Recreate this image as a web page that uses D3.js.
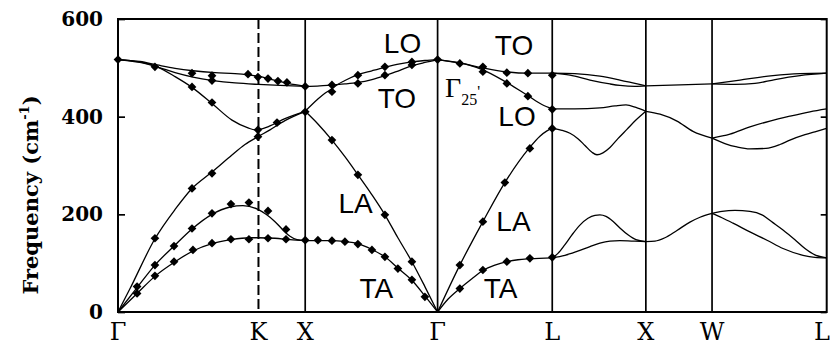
<!DOCTYPE html>
<html>
<head>
<meta charset="utf-8">
<script src="https://cdn.jsdelivr.net/npm/d3@7"></script>
<style>
  html, body { margin: 0; padding: 0; background: #fff; }
  svg { display: block; }
</style>
</head>
<body>
<svg id="chart" width="830" height="347"></svg>
<script>
// Phonon dispersion of Si along Γ–K–X–Γ–L–X–W–L (wavevector in units of 2π/a, frequency in cm⁻¹)

const symmetryLabels = ["Γ", "K", "X", "Γ", "L", "X", "W", "L"];
const symmetryK = [0, 1.061, 1.414, 2.414, 3.280, 3.987, 4.487, 5.353];
const yTicks = [0, 200, 400, 600];

// Γ → K → X (Σ line continued to the X-equivalent point)
const gkxTA1 = [[0,0],[0.144,38],[0.287,75],[0.431,103],[0.566,125],[0.710,140],[0.853,148],[0.997,152],[1.058,152],[1.186,151],[1.299,148],[1.414,146]];
const gkxTA2 = [[0,0],[0.144,50],[0.279,96],[0.423,135],[0.559,170],[0.710,200],[0.846,215],[0.944,218],[1.057,210],[1.118,200],[1.186,185],[1.246,168],[1.299,155],[1.352,148],[1.414,146]];
const gkxLA  = [[0,0],[0.091,48],[0.279,150],[0.431,210],[0.559,253],[0.702,285],[0.846,318],[0.959,343],[1.057,359],[1.148,373],[1.261,392],[1.414,411]];
const gkxLO  = [[0,517],[0.166,512],[0.295,502],[0.431,482],[0.559,460],[0.710,427],[0.861,393],[0.982,377],[1.035,373],[1.073,374],[1.148,381],[1.261,396],[1.414,411]];
const gkxTO1 = [[0,517],[0.166,511],[0.295,502],[0.431,490],[0.566,481],[0.718,474],[0.884,469],[1.061,466],[1.224,464],[1.414,462]];
const gkxTO2 = [[0,517],[0.166,513],[0.295,506],[0.431,499],[0.566,494],[0.733,490],[0.884,488],[0.997,485],[1.057,483],[1.163,476],[1.284,468],[1.414,462]];

// X → Γ
const xgTA = [[1.414,146],[1.510,146],[1.616,146],[1.714,144],[1.812,140],[1.918,128],[2.016,113],[2.114,90],[2.220,65],[2.318,33],[2.414,0]];
const xgLA = [[1.414,411],[1.510,385],[1.616,352],[1.714,318],[1.812,281],[1.918,240],[2.016,199],[2.114,152],[2.220,103],[2.318,52],[2.414,0]];
const xgLO = [[1.414,411],[1.510,436],[1.563,448],[1.616,457],[1.653,465],[1.714,474],[1.812,486],[1.918,494],[2.016,501],[2.129,508],[2.220,512],[2.318,515],[2.414,517]];
const xgTO = [[1.414,462],[1.525,463],[1.616,465],[1.714,467],[1.812,470],[1.918,476],[2.016,484],[2.129,495],[2.220,504],[2.318,511],[2.414,517]];

// Γ → L
const glTA = [[2.414,0],[2.492,26],[2.582,48],[2.673,68],[2.756,85],[2.847,96],[2.937,103],[3.021,107],[3.111,109],[3.280,111]];
const glLA = [[2.414,0],[2.582,96],[2.756,185],[2.922,265],[3.104,335],[3.187,360],[3.240,371],[3.280,376]];
const glLO = [[2.414,517],[2.582,510],[2.658,505],[2.756,496],[2.930,471],[3.096,443],[3.202,425],[3.280,416]];
const glTO = [[2.414,517],[2.582,510],[2.756,500],[2.930,492],[3.096,489],[3.280,489]];

// L → X
const lxTO1 = [[3.280,489],[3.451,488],[3.640,483],[3.791,475],[3.905,468],[3.987,463]];
const lxTO2 = [[3.280,489],[3.414,485],[3.565,475],[3.716,467],[3.791,464],[3.905,462],[3.987,463]];
const lxLO  = [[3.280,416],[3.451,416],[3.640,418],[3.754,422],[3.837,424],[3.912,419],[3.987,411]];
const lxLA  = [[3.280,376],[3.353,372],[3.414,366],[3.474,355],[3.527,341],[3.580,327],[3.618,322],[3.663,326],[3.716,337],[3.776,355],[3.844,374],[3.912,393],[3.987,411]];
const lxTA1 = [[3.280,111],[3.323,120],[3.376,138],[3.429,158],[3.489,178],[3.550,192],[3.603,198],[3.640,199],[3.686,196],[3.738,186],[3.791,172],[3.852,158],[3.912,148],[3.987,144]];
const lxTA2 = [[3.280,111],[3.376,116],[3.467,124],[3.565,134],[3.640,141],[3.716,145],[3.791,146],[3.905,145],[3.987,144]];

// X → W
const xwTO = [[3.987,463],[4.245,465],[4.487,467]];
const xwLO = [[3.987,411],[4.094,405],[4.222,391],[4.343,370],[4.487,356]];
const xwTA = [[3.987,144],[4.056,145],[4.131,152],[4.222,167],[4.320,184],[4.396,194],[4.487,202]];

// W → L
const wlTO1 = [[4.487,467],[4.698,475],[4.947,484],[5.151,488],[5.353,489]];
const wlTO2 = [[4.487,467],[4.660,466],[4.811,468],[4.962,476],[5.151,484],[5.353,489]];
const wlLO  = [[4.487,356],[4.622,364],[4.773,379],[4.924,391],[5.075,401],[5.226,410],[5.353,416]];
const wlLA  = [[4.487,356],[4.584,345],[4.675,338],[4.773,334],[4.894,335],[5.000,343],[5.075,352],[5.189,363],[5.264,369],[5.353,376]];
const wlTA1 = [[4.487,202],[4.562,206],[4.660,208],[4.773,206],[4.864,199],[4.947,183],[5.023,168],[5.113,148],[5.189,130],[5.264,117],[5.353,111]];
const wlTA2 = [[4.487,202],[4.562,193],[4.645,182],[4.773,164],[4.902,147],[5.023,130],[5.174,116],[5.264,112],[5.353,111]];

// Neutron-scattering measurements
const measuredGKX = [[0,517],[0.279,502],[0.559,489],[0.710,484],[0.710,474],[0.982,487],[1.057,481],[1.133,478],[1.208,473],[1.276,470],[1.414,462],
  [0.559,461],[0.710,429],[1.057,373],[1.057,359],[1.201,388],[1.414,410],
  [0.144,52],[0.144,38],[0.279,151],[0.279,96],[0.279,74],[0.423,135],[0.423,103],[0.559,253],[0.559,171],[0.566,127],
  [0.710,284],[0.710,202],[0.710,141],[0.853,221],[0.853,149],[0.989,224],[0.989,149],[1.133,207],[1.133,151],[1.269,169],[1.269,149],[1.414,147]];
const measuredXG = [[1.510,147],[1.616,465],[1.616,451],[1.616,352],[1.616,146],[1.714,144],[1.812,485],[1.812,468],[1.812,281],[1.812,139],
  [1.918,127],[2.016,502],[2.016,485],[2.016,199],[2.016,113],[2.114,89],[2.220,512],[2.220,506],[2.220,103],[2.220,66],[2.318,31],[2.414,517]];
const measuredGL = [[2.582,509],[2.756,502],[2.756,492],[2.937,490],[2.937,468],[3.096,489],[3.096,442],[3.280,485],[3.280,415],[3.280,376],
  [3.111,335],[2.922,265],[2.756,185],[2.582,96],[2.582,48],[2.756,86],[2.937,103],[3.111,110],[3.280,112]];

// Branch names placed next to their curves (wavevector, frequency of the baseline anchor)
const bandLabels = [
  { text: "LO", k: 2.149, f: 530 },
  { text: "TO", k: 2.107, f: 418 },
  { text: "TO", k: 2.991, f: 526 },
  { text: "LO", k: 3.014, f: 381 },
  { text: "LA", k: 1.794, f: 203 },
  { text: "LA", k: 2.987, f: 166 },
  { text: "TA", k: 1.952, f: 29 },
  { text: "TA", k: 2.889, f: 29 }
];
const gammaLabel = { k: 2.470, f: 440 };

const branches = [
  gkxTA1, gkxTA2, gkxLA, gkxLO, gkxTO1, gkxTO2,
  xgTA, xgLA, xgLO, xgTO,
  glTA, glLA, glLO, glTO,
  lxTO1, lxTO2, lxLO, lxLA, lxTA1, lxTA2,
  xwTO, xwLO, xwTA,
  wlTO1, wlTO2, wlLO, wlLA, wlTA1, wlTA2
];
const measured = measuredGKX.concat(measuredXG, measuredGL);

const svg = d3.select("#chart");
const plotLeft = 118, plotRight = 826.7, plotTop = 19, plotBottom = 312;

const x = d3.scaleLinear().domain([0, symmetryK[symmetryK.length - 1]]).range([plotLeft, plotRight]);
const y = d3.scaleLinear().domain([0, 600]).range([plotBottom, plotTop]);

// High-symmetry verticals (K dashed)
svg.append("g").selectAll("line")
  .data(symmetryK.slice(1, -1))
  .join("line")
  .attr("x1", d => x(d)).attr("x2", d => x(d))
  .attr("y1", plotTop).attr("y2", plotBottom)
  .attr("stroke", "#000")
  .attr("stroke-width", (d, i) => i === 0 ? 2 : 1.7)
  .attr("stroke-dasharray", (d, i) => i === 0 ? "10,4" : null);

// Dispersion curves
const line = d3.line()
  .x(d => x(d[0]))
  .y(d => y(d[1]))
  .curve(d3.curveMonotoneX);

svg.append("g").selectAll("path")
  .data(branches)
  .join("path")
  .attr("d", line)
  .attr("fill", "none")
  .attr("stroke", "#000")
  .attr("stroke-width", 1.3);

// Measured points as diamonds
const diamond = {
  draw(ctx, size) {
    const r = Math.sqrt(size / 2);
    ctx.moveTo(0, -r); ctx.lineTo(r, 0); ctx.lineTo(0, r); ctx.lineTo(-r, 0); ctx.closePath();
  }
};
svg.append("g").selectAll("path")
  .data(measured)
  .join("path")
  .attr("transform", d => `translate(${x(d[0])},${y(d[1])})`)
  .attr("d", d3.symbol().type(diamond).size(38))
  .attr("fill", "#000");

// Frame
svg.append("rect")
  .attr("x", plotLeft).attr("y", plotTop)
  .attr("width", plotRight - plotLeft).attr("height", plotBottom - plotTop)
  .attr("fill", "none").attr("stroke", "#000").attr("stroke-width", 2);

// Left axis with inward ticks
const yAxis = svg.append("g")
  .attr("transform", `translate(${plotLeft},0)`)
  .call(d3.axisLeft(y).tickValues(yTicks).tickSize(-7).tickPadding(15));
yAxis.select(".domain").remove();
yAxis.selectAll("line").attr("stroke-width", 1.7);
yAxis.selectAll("text")
  .attr("fill", "#000")
  .style("font-family", "'DejaVu Serif', serif")
  .style("font-weight", "bold")
  .style("font-size", "20px");

// Right axis, ticks only
const yAxisR = svg.append("g")
  .attr("transform", `translate(${plotRight},0)`)
  .call(d3.axisRight(y).tickValues(yTicks).tickSize(-6).tickFormat(""));
yAxisR.select(".domain").remove();
yAxisR.selectAll("line").attr("stroke-width", 1.7);

// Wavevector labels (the last one is kept inside the page edge)
const lastIndex = symmetryK.length - 1;
svg.append("g").selectAll("text")
  .data(symmetryK)
  .join("text")
  .attr("x", (d, i) => i === lastIndex ? 830 : x(d))
  .attr("y", 340)
  .attr("text-anchor", (d, i) => i === lastIndex ? "end" : "middle")
  .style("font-family", "'DejaVu Serif', serif")
  .style("font-size", "24px")
  .text((d, i) => symmetryLabels[i]);

// Y-axis title
const title = svg.append("text")
  .attr("transform", "translate(38,195) rotate(-90)")
  .attr("text-anchor", "middle")
  .style("font-family", "'DejaVu Serif', serif")
  .style("font-weight", "bold")
  .style("font-size", "21px");
title.append("tspan").text("Frequency (cm");
title.append("tspan").attr("dy", -9).style("font-size", "13px").text("-1");
title.append("tspan").attr("dy", 9).text(")");

// Branch labels
svg.append("g").selectAll("text")
  .data(bandLabels)
  .join("text")
  .attr("x", d => x(d.k))
  .attr("y", d => y(d.f))
  .attr("text-anchor", "middle")
  .style("font-family", "'Liberation Sans', Arial, sans-serif")
  .style("font-size", "28px")
  .text(d => d.text);

// Γ25' at the zone centre
const g25 = svg.append("text")
  .attr("x", x(gammaLabel.k))
  .attr("y", y(gammaLabel.f))
  .style("font-family", "'Liberation Serif', 'Times New Roman', serif")
  .style("font-size", "28px");
g25.append("tspan").text("Γ");
g25.append("tspan").attr("dy", 8).style("font-size", "16px").text("25");
g25.append("tspan").attr("dy", -8).style("font-size", "16px").text("'");
</script>
</body>
</html>
